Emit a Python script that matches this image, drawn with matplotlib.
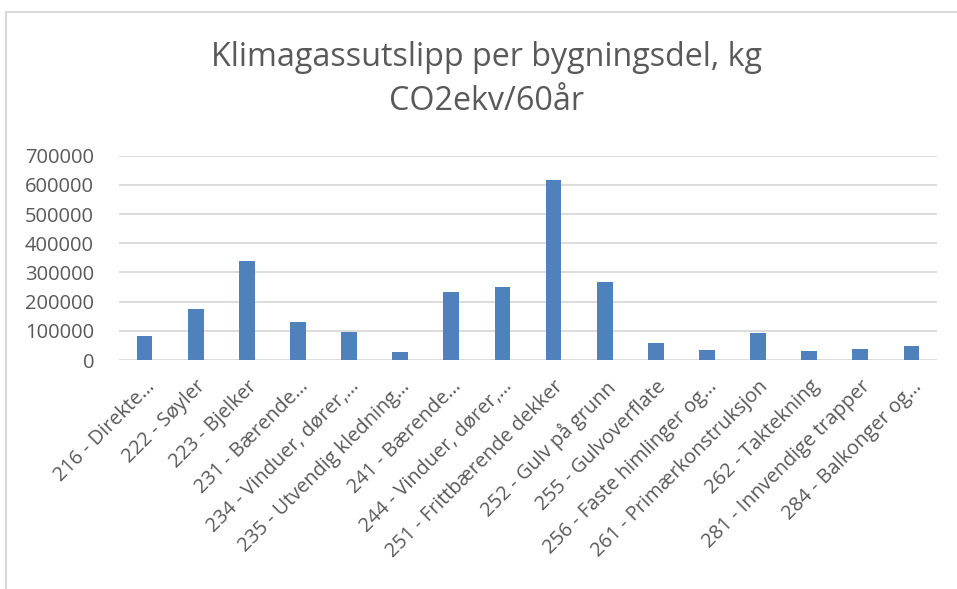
import matplotlib.pyplot as plt
from matplotlib.lines import Line2D

# --- Data ---
kategorier = [
    "216 - Direkte…", "222 - Søyler", "223 - Bjelker", "231 - Bærende…",
    "234 - Vinduer, dører,…", "235 - Utvendig kledning…", "241 - Bærende…",
    "244 - Vinduer, dører,…", "251 - Frittbærende dekker", "252 - Gulv på grunn",
    "255 - Gulvoverflate", "256 - Faste himlinger og…", "261 - Primærkonstruksjon",
    "262 - Taktekning", "281 - Innvendige trapper", "284 - Balkonger og…",
]
utslipp = [82000, 175000, 340000, 131000, 96000, 27000, 234000,
           250000, 617000, 266000, 57000, 33000, 92000, 30000, 39000, 47000]
y_ticks = [0, 100000, 200000, 300000, 400000, 500000, 600000, 700000]

tekst = "#595959"
plt.rcParams['font.family'] = ['Open Sans', 'DejaVu Sans']

fig = plt.figure(figsize=(9.57, 5.89), dpi=100)
W, H = 957, 589
ax = fig.add_axes([119 / W, 1 - 360 / H, 818 / W, (360 - 155.7) / H])

x = range(len(kategorier))
ax.bar(x, utslipp, width=0.31, color="#4F81BD", zorder=3)
ax.set_xlim(-0.5, len(kategorier) - 0.5)
ax.set_ylim(0, 700000)
ax.set_yticks(y_ticks)
ax.set_yticklabels([str(v) for v in y_ticks], fontsize=14.5, color=tekst)
ax.set_xticks(list(x))
ax.set_xticklabels(kategorier, rotation=45, ha="right", rotation_mode="anchor",
                   fontsize=14.3, color=tekst)
ax.tick_params(axis="both", length=0)
ax.tick_params(axis="y", pad=18)
ax.tick_params(axis="x", pad=12)
ax.grid(axis="y", color="#D9D9D9", linewidth=1.3, zorder=0)
for s in ax.spines.values():
    s.set_visible(False)

fig.text(487 / W, 1 - 58 / H, "Klimagassutslipp per bygningsdel, kg",
         ha="center", va="center", fontsize=23.2, color=tekst)
fig.text(487 / W, 1 - 101 / H, "CO2ekv/60år",
         ha="center", va="center", fontsize=23.2, color=tekst)

# chart border
fig.add_artist(Line2D([6 / W, 1], [1 - 12 / H, 1 - 12 / H], color="#D9D9D9", linewidth=1.5))
fig.add_artist(Line2D([6 / W, 6 / W], [0, 1 - 12 / H], color="#D9D9D9", linewidth=1.5))

fig.savefig("out.png", dpi=100)
